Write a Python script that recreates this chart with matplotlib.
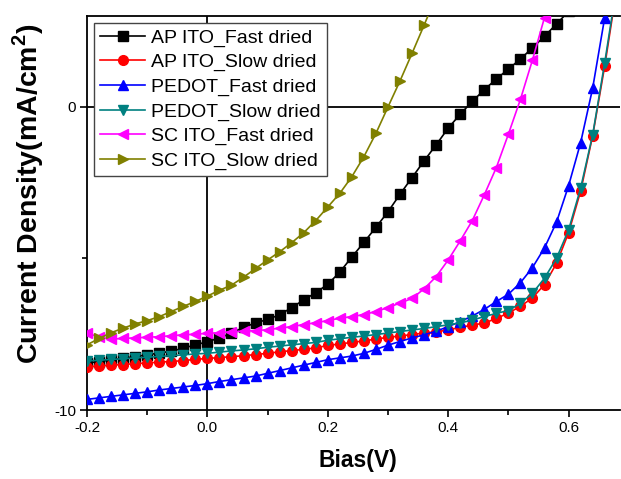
import numpy as np
import matplotlib
matplotlib.use("Agg")
import matplotlib.pyplot as plt
from matplotlib.ticker import MultipleLocator, FixedLocator

# J-V curves of the six devices, bias swept from -0.2 V in 0.02 V steps
bias = np.round(np.arange(-0.20, 0.70, 0.02), 2)

ap_fast = [-8.45, -8.40, -8.35, -8.29, -8.24, -8.18, -8.12, -8.06, -7.96, -7.85,
           -7.75, -7.62, -7.47, -7.27, -7.13, -7.01, -6.86, -6.62, -6.37, -6.13,
           -5.85, -5.45, -4.95, -4.47, -3.97, -3.46, -2.88, -2.33, -1.78, -1.25,
           -0.70, -0.24, 0.18, 0.57, 0.92, 1.25, 1.58, 1.95, 2.33, 2.74, 3.15]

ap_slow = [-8.57, -8.55, -8.52, -8.50, -8.47, -8.45, -8.42, -8.40, -8.37, -8.33,
           -8.30, -8.27, -8.24, -8.21, -8.17, -8.13, -8.08, -8.04, -8.00, -7.95,
           -7.87, -7.82, -7.77, -7.72, -7.66, -7.60, -7.56, -7.51, -7.46, -7.42,
           -7.36, -7.27, -7.20, -7.13, -6.98, -6.80, -6.58, -6.30, -5.86, -5.16,
           -4.15, -2.78, -0.95, 1.35, 3.90]

pedot_fast = [-9.65, -9.60, -9.55, -9.50, -9.45, -9.40, -9.34, -9.29, -9.24, -9.19,
              -9.13, -9.06, -9.00, -8.94, -8.88, -8.79, -8.70, -8.61, -8.52, -8.43,
              -8.34, -8.28, -8.22, -8.13, -8.00, -7.86, -7.74, -7.62, -7.52, -7.40,
              -7.25, -7.08, -6.90, -6.68, -6.42, -6.18, -5.80, -5.30, -4.65, -3.80,
              -2.60, -1.18, 0.62, 2.95, 5.50]

pedot_slow = [-8.38, -8.36, -8.33, -8.31, -8.28, -8.26, -8.23, -8.21, -8.18, -8.15,
              -8.13, -8.09, -8.05, -8.02, -7.98, -7.93, -7.89, -7.85, -7.81, -7.77,
              -7.70, -7.65, -7.60, -7.56, -7.51, -7.46, -7.41, -7.36, -7.31, -7.25,
              -7.19, -7.13, -7.03, -6.92, -6.81, -6.72, -6.48, -6.15, -5.65, -4.99,
              -4.06, -2.68, -0.92, 1.46, 4.00]

sc_fast = [-7.45, -7.60, -7.66, -7.64, -7.62, -7.60, -7.58, -7.55, -7.52, -7.50,
           -7.47, -7.45, -7.42, -7.40, -7.38, -7.35, -7.30, -7.25, -7.18, -7.12,
           -7.05, -6.97, -6.92, -6.85, -6.75, -6.62, -6.47, -6.32, -6.00, -5.60,
           -5.05, -4.42, -3.75, -2.90, -2.00, -0.90, 0.25, 1.55, 2.95, 4.40]

sc_slow = [-7.85, -7.64, -7.45, -7.30, -7.16, -7.05, -6.92, -6.75, -6.58, -6.42,
           -6.24, -6.05, -5.88, -5.62, -5.33, -5.05, -4.78, -4.48, -4.15, -3.75,
           -3.30, -2.85, -2.30, -1.64, -0.87, 0.00, 0.86, 1.77, 2.70, 3.65]

labels = ["AP ITO_Fast dried", "AP ITO_Slow dried", "PEDOT_Fast dried",
          "PEDOT_Slow dried", "SC ITO_Fast dried", "SC ITO_Slow dried"]
series = [ap_fast, ap_slow, pedot_fast, pedot_slow, sc_fast, sc_slow]
colors = ["#000000", "#ff0000", "#0000ff", "#008080", "#ff00ff", "#808000"]
markers = ["s", "o", "^", "v", "<", ">"]
sizes = [6.5, 7, 7.5, 7.5, 7.5, 7.5]

plt.rcParams["font.family"] = ["Liberation Sans", "DejaVu Sans"]
plt.rcParams["axes.unicode_minus"] = False
plt.rcParams["mathtext.fontset"] = "custom"
plt.rcParams["mathtext.bf"] = "Liberation Sans:bold"
plt.rcParams["mathtext.rm"] = "Liberation Sans"

fig = plt.figure(figsize=(6.21, 4.79), dpi=100)
ax = fig.add_axes([87 / 621, 69 / 479, 533 / 621, 394 / 479])

for y, lab, c, m, ms in zip(series, labels, colors, markers, sizes):
    ax.plot(bias[:len(y)], y, color=c, marker=m, markersize=ms, markeredgecolor=c,
            linewidth=1.2, label=lab, zorder=3)

# zero lines through the origin
ax.axhline(0, color="black", linewidth=1.3, zorder=1)
ax.axvline(0, color="black", linewidth=1.3, zorder=1)

ax.set_xlim(-0.2, 0.6854)
ax.set_ylim(-10, 3)
ax.xaxis.set_major_locator(FixedLocator([-0.2, 0.0, 0.2, 0.4, 0.6]))
ax.xaxis.set_minor_locator(MultipleLocator(0.1))
ax.yaxis.set_major_locator(FixedLocator([-10, 0]))
ax.yaxis.set_minor_locator(FixedLocator([-5]))
ax.xaxis.set_major_formatter(plt.FuncFormatter(lambda v, p: f"{v:.1f}"))
ax.yaxis.set_major_formatter(plt.FuncFormatter(lambda v, p: f"{v:.0f}"))
ax.tick_params(which="major", direction="out", length=5, width=1.2, labelsize=11, pad=3)
ax.tick_params(which="minor", direction="out", length=3.5, width=1.2)
ax.tick_params(top=False, right=False)
for s in ["left", "bottom", "top"]:
    ax.spines[s].set_linewidth(1.3)
ax.spines["right"].set_visible(False)

ax.set_xlabel("Bias(V)", fontsize=16.5, fontweight="bold")
ax.set_ylabel(r"Current Density(mA/cm$^\mathbf{2}$)", fontsize=20.5, fontweight="bold")
ax.xaxis.set_label_coords(0.508, -0.10)
ax.yaxis.set_label_coords(-0.076, 0.55)

leg = ax.legend(loc="upper left", bbox_to_anchor=(0.013, 0.982), borderaxespad=0,
                fontsize=14, numpoints=1, handlelength=2.35, handletextpad=0.3,
                labelspacing=0.35, borderpad=0.3, fancybox=False, framealpha=1)
leg.get_frame().set_edgecolor("#444444")
leg.get_frame().set_linewidth(1.0)
leg.set_zorder(5)

fig.savefig("out.png", dpi=100)
